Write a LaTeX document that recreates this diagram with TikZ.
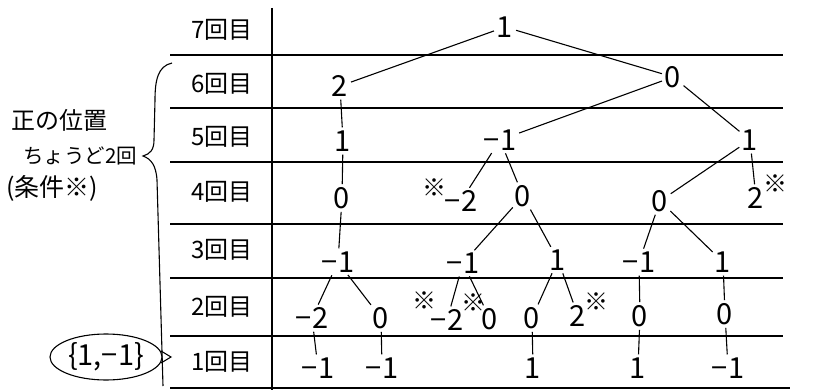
\documentclass[tikz,border=0pt]{standalone}
\usepackage{fontspec}
\setmainfont{Noto Sans CJK JP}
\usetikzlibrary{shapes.geometric}
\begin{document}
\begin{tikzpicture}[x=1pt,y=-1pt,
  val/.style={font=\fontsize{29}{32}\selectfont, inner sep=0pt},
  rowlab/.style={font=\fontsize{24}{28}\selectfont, inner sep=1pt},
  sidelab/.style={font=\fontsize{24}{28}\selectfont, inner sep=1pt, anchor=west},
  kome/.style={font=\fontsize{24}{26}\selectfont, inner sep=0pt},
  edge/.style={line width=1.1pt, shorten <=3pt, shorten >=3pt},
  rule/.style={line width=1.1pt}]
\useasboundingbox (0,0) rectangle (818,390);
% table rules
\draw[rule] (272,8) -- (272,390);
\foreach \y in {55,108,162,224,278,336} \draw[rule] (170,\y) -- (783,\y);
\draw[rule] (170,388) -- (790,388);
% row labels
\node[rowlab] (l7) at (222,30) {7回目};
\node[rowlab] (l6) at (222,84) {6回目};
\node[rowlab] (l5) at (222,137) {5回目};
\node[rowlab] (l4) at (222,192) {4回目};
\node[rowlab] (l3) at (222,250) {3回目};
\node[rowlab] (l2) at (222,307) {2回目};
\node[rowlab] (l1) at (222,362) {1回目};
% side notes
\node[sidelab] (s1) at (10,120) {正の位置};
\node[sidelab, font=\fontsize{20.5}{24}\selectfont] (s2) at (22,156) {ちょうど2回};
\node[sidelab, font=\fontsize{25}{28}\selectfont] (s3) at (5,188) {(条件※)};
\draw[rule] (172,63) .. controls (158,66) and (155,80) .. (155,100)
  -- (154,140) .. controls (154,150) and (150,154) .. (143,156)
  .. controls (151,159) and (156,165) .. (157,180)
  -- (163,386);
% start set
\node[val, draw, ellipse, line width=1.1pt, minimum width=112pt, minimum height=46pt, inner sep=0pt] (st) at (106,357) {\{1,−1\}};
\coordinate (ch) at (171,357);
\draw[rule] (161,351) -- (ch) -- (161,363);
% tree values
\node[val] (n7) at (505,27) {1};
\node[val] (a6) at (340,86) {2};
\node[val] (b6) at (673,77) {0};
\node[val] (a5) at (343,141) {1};
\node[val] (b5) at (500,140) {−1};
\node[val] (c5) at (750,140) {1};
\node[val] (a4) at (342,198) {0};
\node[val] (b4) at (461,201) {−2};
\node[kome] (kb4) at (434,188) {※};
\node[val] (c4) at (523,196) {0};
\node[val] (d4) at (660,201) {0};
\node[val] (e4) at (756,198) {2};
\node[kome] (ke4) at (775,184) {※};
\node[val] (a3) at (338,262) {−1};
\node[val] (b3) at (463,263) {−1};
\node[val] (c3) at (558,260) {1};
\node[val] (d3) at (639,262) {−1};
\node[val] (e3) at (723,262) {1};
\node[val] (a2) at (312,318) {−2};
\node[val] (b2) at (381,318) {0};
\node[val] (c2) at (447,320) {−2};
\node[kome] (kc2) at (424,301) {※};
\node[val] (d2) at (490,319) {0};
\node[kome] (kd2) at (473,303) {※};
\node[val] (e2) at (532,318) {0};
\node[val] (f2) at (578,316) {2};
\node[kome] (kf2) at (596,302) {※};
\node[val] (g2) at (640,316) {0};
\node[val] (h2) at (725,314) {0};
\node[val] (a1) at (318,368) {−1};
\node[val] (b1) at (382,368) {−1};
\node[val] (c1) at (533,368) {1};
\node[val] (d1) at (638,368) {1};
\node[val] (e1) at (728,368) {−1};
% edges
\draw[edge] (n7) -- (a6);
\draw[edge] (n7) -- (b6);
\draw[edge] (a6) -- (a5);
\draw[edge] (b6) -- (b5);
\draw[edge] (b6) -- (c5);
\draw[edge] (a5) -- (a4);
\draw[edge] (b5) -- (b4);
\draw[edge] (b5) -- (c4);
\draw[edge] (c5) -- (d4);
\draw[edge] (c5) -- (e4);
\draw[edge] (a4) -- (a3);
\draw[edge] (c4) -- (b3);
\draw[edge] (c4) -- (c3);
\draw[edge] (d4) -- (d3);
\draw[edge] (d4) -- (e3);
\draw[edge] (a3) -- (a2);
\draw[edge] (a3) -- (b2);
\draw[edge] (b3) -- (c2);
\draw[edge] (b3) -- (d2);
\draw[edge] (c3) -- (e2);
\draw[edge] (c3) -- (f2);
\draw[edge] (d3) -- (g2);
\draw[edge] (e3) -- (h2);
\draw[edge] (a2) -- (a1);
\draw[edge] (b2) -- (b1);
\draw[edge] (e2) -- (c1);
\draw[edge] (g2) -- (d1);
\draw[edge] (h2) -- (e1);
\end{tikzpicture}
\end{document}
